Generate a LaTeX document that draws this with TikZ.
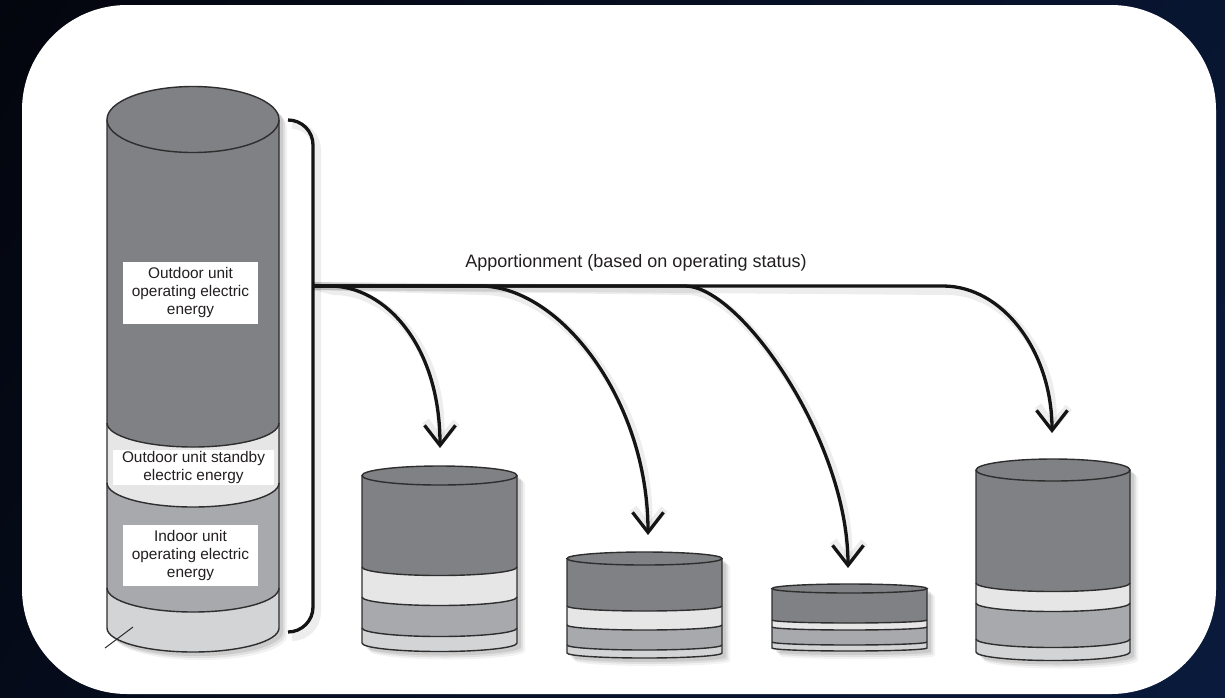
\documentclass[tikz,border=0pt]{standalone}
\usepackage{fontspec}
\setmainfont{Liberation Sans}
\usetikzlibrary{arrows.meta}
\definecolor{cdark}{HTML}{808185}
\definecolor{clight}{HTML}{E6E6E6}
\definecolor{cmed}{HTML}{A7A9AC}
\definecolor{cbot}{HTML}{D3D4D5}
\definecolor{cline}{HTML}{2E2E2E}
\definecolor{ctext}{HTML}{231F20}
\definecolor{bgA}{RGB}{3,4,10}
\definecolor{bgB}{RGB}{10,28,64}
% args: xl, xr, ytop-centre, top ry, y1, y2, y3, y4, arc depth
\newcommand{\mycyl}[9]{%
  \pgfmathsetmacro\cxx{(#1+#2)/2}%
  \pgfmathsetmacro\rxx{(#2-#1)/2}%
  \foreach \sh/\op in {8/0.05,6/0.07,4/0.09}{%
    \fill[black,opacity=\op,shift={(\sh,\sh)}]
      (#1,#3) -- (#1,#8) arc[start angle=180,end angle=360,x radius=\rxx pt,y radius=#9pt]
      -- (#2,#3) arc[start angle=0,end angle=180,x radius=\rxx pt,y radius=#4pt] -- cycle;
  }
  \fill[cbot] (#1,#3) -- (#1,#8) arc[start angle=180,end angle=360,x radius=\rxx pt,y radius=#9pt] -- (#2,#3) -- cycle;
  \fill[cmed] (#1,#3) -- (#1,#7) arc[start angle=180,end angle=360,x radius=\rxx pt,y radius=#9pt] -- (#2,#3) -- cycle;
  \fill[clight] (#1,#3) -- (#1,#6) arc[start angle=180,end angle=360,x radius=\rxx pt,y radius=#9pt] -- (#2,#3) -- cycle;
  \fill[cdark] (#1,#3) -- (#1,#5) arc[start angle=180,end angle=360,x radius=\rxx pt,y radius=#9pt] -- (#2,#3) -- cycle;
  \draw[cylline] (#1,#5) arc[start angle=180,end angle=360,x radius=\rxx pt,y radius=#9pt];
  \draw[cylline] (#1,#6) arc[start angle=180,end angle=360,x radius=\rxx pt,y radius=#9pt];
  \draw[cylline] (#1,#7) arc[start angle=180,end angle=360,x radius=\rxx pt,y radius=#9pt];
  \draw[cylline] (#1,#3) -- (#1,#8) arc[start angle=180,end angle=360,x radius=\rxx pt,y radius=#9pt] -- (#2,#3);
  \draw[cylline,fill=cdark] (\cxx,#3) ellipse[x radius=\rxx pt,y radius=#4pt];
}
\begin{document}
\begin{tikzpicture}[x=1pt,y=-1pt,
  cylline/.style={draw=cline,line width=1.4pt},
  arr/.style={draw=black!92,line width=3.3pt,-{Straight Barb[length=20pt,width=31pt]}},
  shd/.style={draw=black,line width=8pt,opacity=0.07,shift={(4,5)},-{Straight Barb[length=20pt,width=31pt]}},
  shdb/.style={draw=black,line width=8pt,opacity=0.07,shift={(4,5)}},
  lbl/.style={fill=white,inner sep=0pt,align=center,text=ctext,font=\fontsize{15.4}{18}\selectfont}]
\useasboundingbox (0,0) rectangle (1225,697);
\shade[left color=bgA,right color=bgB,shading angle=60] (-300,-300) rectangle (1525,997);
\fill[white,rounded corners=105pt] (22,5) rectangle (1216,694);

% big cylinder
\mycyl{107}{279}{119.5}{33}{423}{483}{588}{628}{24}
\draw[cline,line width=1pt] (105,648) -- (133,627);

% small cylinders
\mycyl{362}{517}{475.5}{9.5}{567}{597}{628}{643}{8.5}
\mycyl{567}{722}{558.5}{6.5}{606}{625}{645}{653}{5}
\mycyl{772}{927}{588.5}{4.5}{620}{627}{642}{648}{3}
\mycyl{976}{1130}{470}{11}{583}{603}{639}{652}{8.5}

% labels
\node[lbl,minimum width=135pt,minimum height=62pt] (lab1) at (190.5,293) {Outdoor unit\\operating electric\\energy};
\node[lbl,minimum width=161pt,minimum height=35pt] (lab2) at (193.5,467.5) {Outdoor unit standby\\electric energy};
\node[lbl,minimum width=135pt,minimum height=61pt] (lab3) at (190.5,555.5) {Indoor unit\\operating electric\\energy};

% coordinates
\coordinate (src) at (313,286);
\coordinate (t1) at (440,448);
\coordinate (t2) at (648,535);
\coordinate (t3) at (848,568);
\coordinate (t4) at (1052,433);

% brace shadow + brace
\draw[shdb,rounded corners=25pt] (288,120) -- (313,120) -- (313,632) -- (288,632);
\draw[black!92,line width=3.3pt,rounded corners=25pt] (288,120) -- (313,120) -- (313,632) -- (288,632);

% arrow shadows
\draw[shd] (src) -- (330,286) .. controls (385,286) and (440,345) .. (t1);
\draw[shd] (src) -- (480,286) .. controls (560,286) and (648,400) .. (t2);
\draw[shd] (src) -- (685,286) .. controls (740,286) and (848,440) .. (t3);
\draw[shd] (src) -- (943,286) .. controls (1003,286) and (1052,352) .. (t4);

% arrows
\draw[arr] (src) -- (330,286) .. controls (385,286) and (440,345) .. (t1);
\draw[arr] (src) -- (480,286) .. controls (560,286) and (648,400) .. (t2);
\draw[arr] (src) -- (685,286) .. controls (740,286) and (848,440) .. (t3);
\draw[arr] (src) -- (943,286) .. controls (1003,286) and (1052,352) .. (t4);

\node[text=ctext,font=\fontsize{18}{20}\selectfont] (appo) at (636,263) {Apportionment (based on operating status)};
\end{tikzpicture}
\end{document}
